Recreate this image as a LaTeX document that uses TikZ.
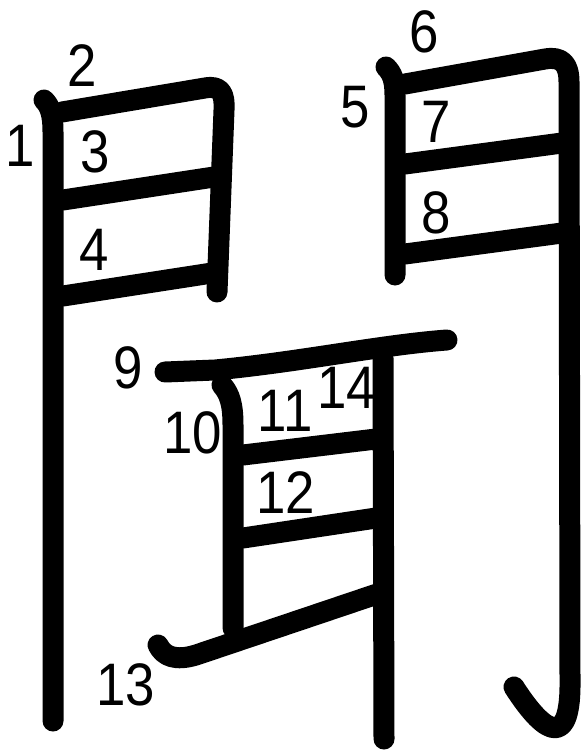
\documentclass[tikz,border=0pt]{standalone}
\usepackage{fontspec}
\newfontfamily\numfont[FakeStretch=0.88]{Liberation Sans}
\usetikzlibrary{positioning}

\tikzset{
    kstroke/.style={line width=21pt, line cap=round, line join=round},
    numlabel/.style={font=\numfont\fontsize{60}{60}\selectfont, inner sep=0pt}
}

\begin{document}
\begin{tikzpicture}[x=1pt, y=-1pt]
    \useasboundingbox (0, 0) rectangle (587, 754);

    % Left gate
    \draw[kstroke] (44, 100) .. controls (50, 106) and (53, 114) .. (53, 132) -- (53, 721);           % 1
    \draw[kstroke] (62, 112) -- (205, 88) .. controls (221, 85) and (225, 94) .. (224, 110) -- (217, 292); % 2
    \draw[kstroke] (63, 200) -- (214, 177);                                                          % 3
    \draw[kstroke] (63, 296) -- (212, 273);                                                          % 4

    % Right gate
    \draw[kstroke] (386, 67) .. controls (392, 73) and (395, 80) .. (395, 95) -- (395, 275);          % 5
    \draw[kstroke] (405, 84) -- (545, 59) .. controls (562, 56) and (569, 64) .. (569, 82)
        -- (570, 680) .. controls (571, 745) and (548, 740) .. (514, 687);                          % 6
    \draw[kstroke] (405, 164) -- (562, 143);                                                         % 7
    \draw[kstroke] (405, 254) -- (562, 233);                                                         % 8

    % Ear
    \draw[kstroke] (165, 372) -- (215, 370) .. controls (300, 362) and (380, 345) .. (447, 340);      % 9
    \draw[kstroke] (222, 385) .. controls (230, 394) and (233, 405) .. (233, 425) -- (233, 628);      % 10
    \draw[kstroke] (243, 455) -- (376, 439);                                                         % 11
    \draw[kstroke] (243, 538) -- (376, 518);                                                         % 12
    \draw[kstroke] (158, 645) .. controls (164, 657) and (176, 661) .. (196, 655) -- (377, 594);      % 13
    \draw[kstroke] (383, 358) -- (384, 739);                                                         % 14

    % Stroke numbers
    \node[numlabel] (n1) at (20, 146) {1};
    \node[numlabel] (n2) at (82, 66) {2};
    \node[numlabel] (n3) at (95, 152) {3};
    \node[numlabel] (n4) at (94, 250) {4};
    \node[numlabel] (n5) at (355, 107) {5};
    \node[numlabel] (n6) at (424, 32) {6};
    \node[numlabel] (n7) at (436, 122) {7};
    \node[numlabel] (n8) at (436, 213) {8};
    \node[numlabel] (n9) at (128, 368) {9};
    \node[numlabel] (n10) at (193, 433) {10};
    \node[numlabel] (n11) at (285, 411) {11};
    \node[numlabel] (n12) at (286, 493) {12};
    \node[numlabel] (n13) at (126, 685) {13};
    \node[numlabel] (n14) at (347, 388) {14};
\end{tikzpicture}
\end{document}
